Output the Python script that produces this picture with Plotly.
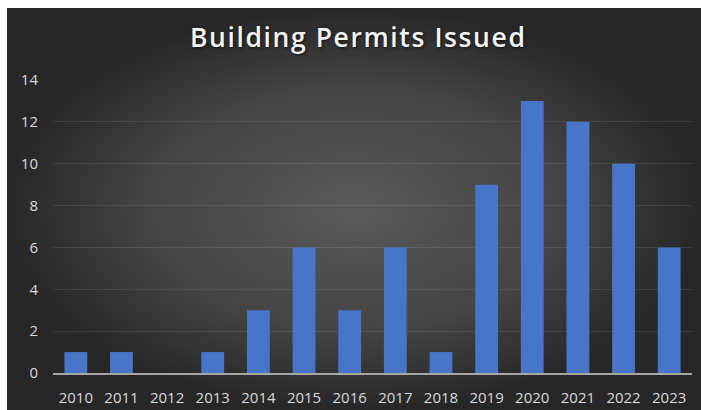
import plotly.graph_objects as go

years = ["2010", "2011", "2012", "2013", "2014", "2015", "2016",
         "2017", "2018", "2019", "2020", "2021", "2022", "2023"]
permits = [1, 1, 0, 1, 3, 6, 3, 6, 1, 9, 13, 12, 10, 6]
y_ticks = [0, 2, 4, 6, 8, 10, 12, 14]
title_text = "Building Permits Issued"

W, H = 701, 410
label_font = dict(family="Open Sans", size=15, color="#d9d9d9")

fig = go.Figure()

# background panel with radial gradient (decorative)
fig.add_trace(go.Scatter(
    x=[7 / W, 1, 1, 7 / W, 7 / W],
    y=[1 - 8 / H, 1 - 8 / H, 0, 0, 1 - 8 / H],
    mode="lines", line=dict(width=0), fill="toself",
    fillgradient=dict(type="radial",
                      colorscale=[[0, "#5a5a5a"], [0.6, "#444444"], [1, "#272727"]]),
    hoverinfo="skip", showlegend=False, xaxis="x", yaxis="y",
))

fig.add_trace(go.Bar(
    x=years, y=permits, marker=dict(color="#4775c8", line=dict(width=0)),
    xaxis="x2", yaxis="y2", showlegend=False,
))

fig.update_layout(
    width=W, height=H,
    margin=dict(l=0, r=0, t=0, b=0, pad=0, autoexpand=False),
    paper_bgcolor="white", plot_bgcolor="rgba(0,0,0,0)",
    bargap=0.5,
    title=dict(text=title_text, x=0.511, xanchor="center", y=1 - 38 / H, yanchor="middle",
               automargin=False,
               font=dict(family="Open Sans", size=26.5, color="#f4f4f4", weight=600,
                         shadow="1px 1px 3px rgba(0,0,0,0.6)")),
    xaxis=dict(domain=[0, 1], range=[0, 1], visible=False, fixedrange=True, automargin=False),
    yaxis=dict(domain=[0, 1], range=[0, 1], visible=False, fixedrange=True, automargin=False),
    xaxis2=dict(domain=[53 / W, 692 / W], anchor="y2", showgrid=False, automargin=False,
                showline=True, linecolor="#a6a6a6", linewidth=2,
                tickfont=label_font, ticks="", ticklabelstandoff=10),
    yaxis2=dict(domain=[37 / H, 330 / H], anchor="x2", range=[0, 14], automargin=False,
                tickvals=y_ticks, showgrid=True,
                gridcolor="rgba(255,255,255,0.09)", gridwidth=1,
                zeroline=False, showline=False,
                tickfont=label_font, ticks="", ticklabelstandoff=14),
)

post = (
    "document.body.style.margin='0';"
    "document.body.style.overflow='hidden';"
    "var t=document.querySelector('.gtitle'); if(t){t.style.letterSpacing='1.6px';}"
)

fig.write_html("out.html", post_script=post, config={"displayModeBar": False})
